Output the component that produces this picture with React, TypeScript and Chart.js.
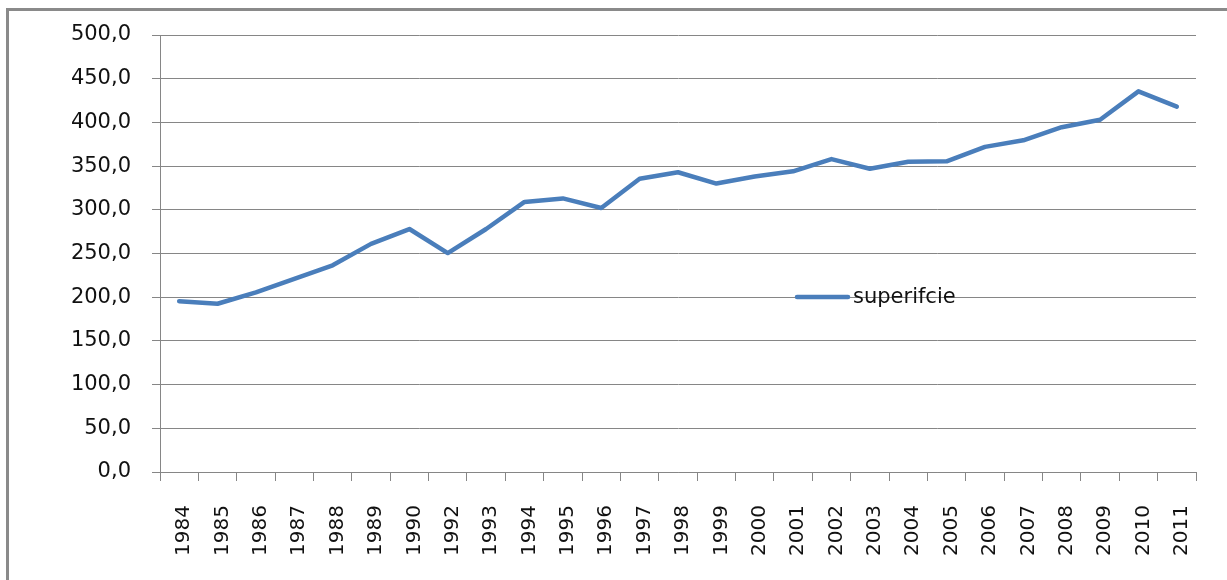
import React, { useEffect, useRef } from "react";
import { Chart, registerables } from "chart.js";

Chart.register(...registerables);

const years: string[] = [
  "1984", "1985", "1986", "1987", "1988", "1989", "1990", "1992", "1993", "1994",
  "1995", "1996", "1997", "1998", "1999", "2000", "2001", "2002", "2003", "2004",
  "2005", "2006", "2007", "2008", "2009", "2010", "2011",
];
// note: 1991 is absent in the source
const superficie: number[] = [
  195.5, 192.5, 205.5, 221, 236.5, 261, 278, 250.5, 278, 309,
  313, 302, 335.5, 343, 330, 338, 344, 358, 347, 355,
  355.5, 372, 379.5, 394.5, 403, 435.5, 418,
];
const seriesName = "superifcie";
const yMin = 0;
const yMax = 500;
const yStep = 50;

const FONT = "'DejaVu Sans', sans-serif";

const legendPlugin = {
  id: "insideLegend",
  afterDatasetsDraw(chart: any) {
    const ctx = chart.ctx;
    const x0 = 795;
    const y0 = 297;
    ctx.save();
    ctx.strokeStyle = "#4A7EBB";
    ctx.lineWidth = 4.5;
    ctx.lineCap = "round";
    ctx.beginPath();
    ctx.moveTo(x0 + 2, y0);
    ctx.lineTo(x0 + 53, y0);
    ctx.stroke();
    ctx.fillStyle = "#111";
    ctx.font = `21px ${FONT}`;
    ctx.textBaseline = "middle";
    ctx.textAlign = "left";
    ctx.fillText(seriesName, x0 + 58, y0 + 1);
    ctx.restore();
  },
};

export default function App() {
  const canvasRef = useRef<HTMLCanvasElement | null>(null);

  useEffect(() => {
    const canvas = canvasRef.current;
    if (!canvas) return;
    const chart = new Chart(canvas, {
      type: "line",
      data: {
        labels: years,
        datasets: [
          {
            label: seriesName,
            data: superficie,
            borderColor: "#4A7EBB",
            backgroundColor: "#4A7EBB",
            borderWidth: 4.5,
            pointRadius: 0,
            tension: 0,
            borderCapStyle: "round",
            borderJoinStyle: "round",
          },
        ],
      },
      options: {
        animation: false,
        responsive: true,
        maintainAspectRatio: false,
        layout: { padding: { left: 0, top: 35, right: 31, bottom: 0 } },
        plugins: {
          legend: { display: false },
          tooltip: { enabled: false },
          title: { display: false },
        },
        scales: {
          x: {
            type: "category",
            offset: true,
            grid: {
              offset: true,
              drawOnChartArea: false,
              drawTicks: true,
              tickLength: 9,
              color: "#868686",
            },
            border: { color: "#868686", width: 1 },
            ticks: {
              autoSkip: false,
              minRotation: 90,
              maxRotation: 90,
              padding: 24,
              labelOffset: 5,
              color: "#111",
              font: { family: FONT, size: 20 },
            },
            afterFit(scale: any) {
              scale.height = 108;
            },
          },
          y: {
            min: yMin,
            max: yMax,
            grid: {
              color: "#868686",
              lineWidth: 1,
              drawTicks: true,
              tickLength: 8,
            },
            border: { color: "#868686", width: 1 },
            ticks: {
              stepSize: yStep,
              padding: 21,
              color: "#111",
              font: { family: FONT, size: 21 },
              callback: (v: any) => Number(v).toFixed(1).replace(".", ","),
            },
            afterFit(scale: any) {
              scale.width = 160;
            },
          },
        },
      },
      plugins: [legendPlugin],
    });
    return () => chart.destroy();
  }, []);

  return (
    <div
      style={{
        position: "fixed",
        left: 0,
        top: 0,
        width: 1227,
        height: 580,
        background: "#fff",
      }}
    >
      <div
        style={{
          position: "absolute",
          left: 6,
          top: 8,
          right: 0,
          bottom: 0,
          borderTop: "3px solid #8a8a8a",
          borderLeft: "3px solid #8a8a8a",
          pointerEvents: "none",
        }}
      />
      <canvas ref={canvasRef} style={{ position: "absolute", left: 0, top: 0 }} />
    </div>
  );
}
